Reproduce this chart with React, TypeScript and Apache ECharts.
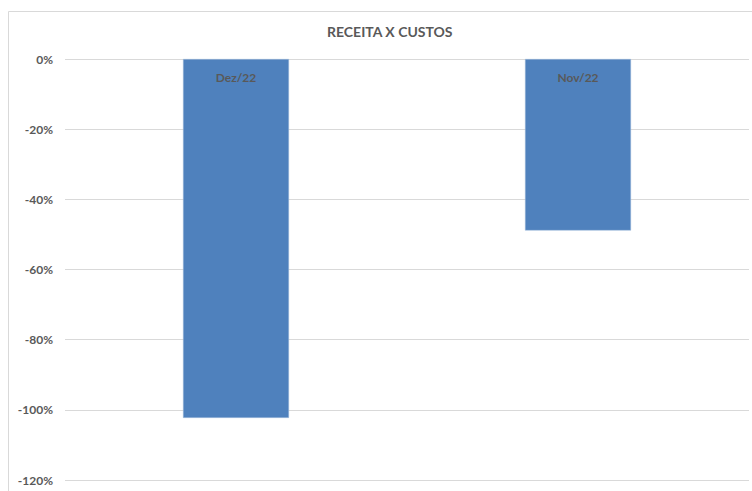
import React, { useEffect, useRef } from "react";
import * as echarts from "echarts";

const title = "RECEITA X CUSTOS";
const categories = ["Dez/22", "Nov/22"];
const values = [-102.3, -48.9];
const yMin = -120;
const yMax = 0;
const yStep = 20;

export default function App() {
  const ref = useRef<HTMLDivElement>(null);
  useEffect(() => {
    if (!ref.current) return;
    const chart = echarts.init(ref.current, null, { renderer: "svg" });
    chart.setOption({
      animation: false,
      backgroundColor: "#ffffff",
      title: {
        text: title,
        left: 322,
        top: 19,
        textStyle: {
          fontFamily: "Lato",
          fontSize: 14,
          fontWeight: "bold",
          color: "#595959",
        },
      },
      graphic: [
        {
          type: "rect",
          shape: { x: 8.5, y: 11.5, width: 760, height: 500 },
          style: { fill: "none", stroke: "#d9d9d9", lineWidth: 1 },
          silent: true,
        },
      ],
      grid: { left: 65, right: 3, top: 59, bottom: 11, containLabel: false },
      xAxis: {
        type: "category",
        data: categories,
        position: "top",
        axisLine: { show: false },
        axisTick: { show: false },
        axisLabel: {
          inside: true,
          margin: 12,
          fontFamily: "Lato",
          fontSize: 12,
          fontWeight: "bold",
          color: "#595959",
        },
        z: 10,
      },
      yAxis: {
        type: "value",
        min: yMin,
        max: yMax,
        interval: yStep,
        axisLine: { show: false },
        axisTick: { show: false },
        axisLabel: {
          formatter: (v: number) => `${v}%`,
          fontFamily: "Lato",
          fontSize: 12,
          fontWeight: "bold",
          color: "#595959",
          margin: 12,
        },
        splitLine: { lineStyle: { color: "#d9d9d9", width: 1 } },
      },
      series: [
        {
          type: "bar",
          data: values,
          barWidth: "31%",
          itemStyle: { color: "#4f81bd", borderColor: "#a7c0de", borderWidth: 0.5 },
          z: 2,
        },
      ],
    });
    return () => chart.dispose();
  }, []);
  return (
    <div
      ref={ref}
      style={{ position: "fixed", left: 0, top: 0, width: 752, height: 491 }}
    />
  );
}
